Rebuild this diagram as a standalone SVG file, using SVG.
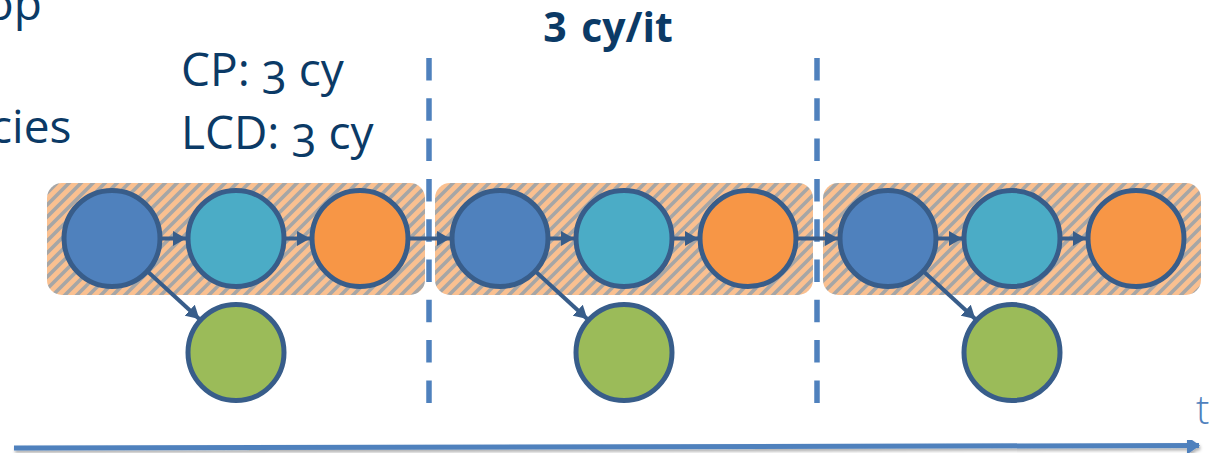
<svg xmlns="http://www.w3.org/2000/svg" width="1213" height="455" viewBox="0 0 1213 455">
  <style>
    .lbl { font-family: "Open Sans", "Noto Sans", "Liberation Sans", sans-serif; font-size: 46px; fill: #0B3A66; font-variant-numeric: oldstyle-nums; }
    .title { font-family: "Open Sans", "Noto Sans", "Liberation Sans", sans-serif; font-size: 41px; font-weight: bold; fill: #0B3A66; }
    .axis-lbl { font-family: "Open Sans", "Noto Sans", "Liberation Sans", sans-serif; font-size: 40px; font-weight: 300; fill: #4F81BD; }
    .iter { fill: url(#hatch); }
    .node { stroke: #385D8A; stroke-width: 5; }
    .n-a { fill: #4F81BD; }
    .n-b { fill: #4BACC6; }
    .n-c { fill: #F79646; }
    .n-d { fill: #9BBB59; }
    .edge { stroke: #385D8A; stroke-width: 4; fill: none; marker-end: url(#head); }
    .divider { stroke: #4F81BD; stroke-width: 5.5; stroke-dasharray: 22.5 17.8; fill: none; }
    .time { stroke: #4F81BD; stroke-width: 5; fill: none; marker-end: url(#timehead); }
  </style>
  <defs>
    <pattern id="hatch" patternUnits="userSpaceOnUse" width="12" height="12">
      <rect width="12" height="12" fill="#FAC090"/>
      <path d="M-3,3 L3,-3 M0,12 L12,0 M9,15 L15,9" stroke="#A6A6A6" stroke-width="3.6"/>
    </pattern>
    <marker id="head" markerUnits="userSpaceOnUse" markerWidth="14" markerHeight="15" refX="13" refY="7.5" orient="auto">
      <path d="M0,0 L13,7.5 L0,15 Z" fill="#385D8A"/>
    </marker>
    <marker id="timehead" markerUnits="userSpaceOnUse" markerWidth="14" markerHeight="18" refX="12" refY="9" orient="auto">
      <path d="M0,0 L13,9 L0,18 Z" fill="#4F81BD"/>
    </marker>
    <filter id="shadow" x="-5%" y="-200%" width="110%" height="500%">
      <feDropShadow dx="1" dy="2.5" stdDeviation="1.5" flood-color="#000" flood-opacity="0.3"/>
    </filter>
  </defs>

  <!-- text labels -->
  <text class="lbl" x="-14" y="20">op</text>
  <text class="lbl" x="-10" y="143">cies</text>
  <text class="lbl" x="181" y="86">CP: 3 cy</text>
  <text class="lbl" x="181" y="149">LCD: 3 cy</text>
  <text class="title" x="608" y="42" text-anchor="middle" word-spacing="4">3 cy/it</text>

  <!-- iteration bands -->
  <g id="iter1"><rect class="iter" x="47" y="183" width="378" height="112" rx="15"/></g>
  <g id="iter2"><rect class="iter" x="435" y="183" width="378" height="112" rx="15"/></g>
  <g id="iter3"><rect class="iter" x="823" y="183" width="378" height="112" rx="15"/></g>

  <!-- iteration dividers -->
  <g id="dividers">
    <line class="divider" x1="429" y1="58" x2="429" y2="403"/>
    <line class="divider" x1="817" y1="58" x2="817" y2="403"/>
  </g>

  <!-- connectors -->
  <g id="connectors">
    <line class="edge" x1="162" y1="238.5" x2="186" y2="238.5"/>
    <line class="edge" x1="286" y1="238.5" x2="310" y2="238.5"/>
    <line class="edge" x1="410" y1="238.5" x2="450" y2="238.5"/>
    <line class="edge" x1="550" y1="238.5" x2="574" y2="238.5"/>
    <line class="edge" x1="674" y1="238.5" x2="698" y2="238.5"/>
    <line class="edge" x1="798" y1="238.5" x2="838" y2="238.5"/>
    <line class="edge" x1="938" y1="238.5" x2="962" y2="238.5"/>
    <line class="edge" x1="1062" y1="238.5" x2="1086" y2="238.5"/>
    <line class="edge" x1="148.7" y1="272.5" x2="199.3" y2="319"/>
    <line class="edge" x1="536.7" y1="272.5" x2="587.3" y2="319"/>
    <line class="edge" x1="924.7" y1="272.5" x2="975.3" y2="319"/>
  </g>

  <!-- nodes, iteration 1 -->
  <g id="a1"><circle class="node n-a" cx="112" cy="238.5" r="48"/></g>
  <g id="b1"><circle class="node n-b" cx="236" cy="238.5" r="48"/></g>
  <g id="c1"><circle class="node n-c" cx="360" cy="238.5" r="48"/></g>
  <g id="d1"><circle class="node n-d" cx="236" cy="352.5" r="48"/></g>

  <!-- nodes, iteration 2 -->
  <g id="a2"><circle class="node n-a" cx="500" cy="238.5" r="48"/></g>
  <g id="b2"><circle class="node n-b" cx="624" cy="238.5" r="48"/></g>
  <g id="c2"><circle class="node n-c" cx="748" cy="238.5" r="48"/></g>
  <g id="d2"><circle class="node n-d" cx="624" cy="352.5" r="48"/></g>

  <!-- nodes, iteration 3 -->
  <g id="a3"><circle class="node n-a" cx="888" cy="238.5" r="48"/></g>
  <g id="b3"><circle class="node n-b" cx="1012" cy="238.5" r="48"/></g>
  <g id="c3"><circle class="node n-c" cx="1136" cy="238.5" r="48"/></g>
  <g id="d3"><circle class="node n-d" cx="1012" cy="352.5" r="48"/></g>

  <!-- time axis -->
  <g id="time-axis">
    <line class="time" x1="14" y1="448" x2="1199" y2="445.5" filter="url(#shadow)"/>
    <text class="axis-lbl" x="1196" y="424">t</text>
  </g>
</svg>
